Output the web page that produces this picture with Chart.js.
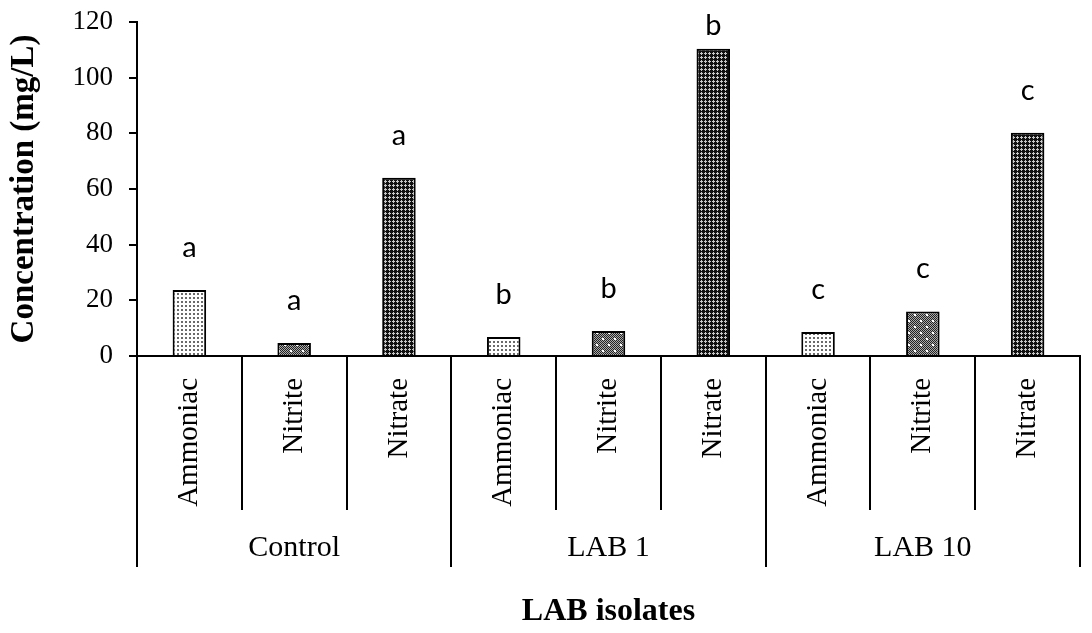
<!DOCTYPE html>
<html>
<head>
<meta charset="utf-8">
<script src="https://cdn.jsdelivr.net/npm/chart.js@4"></script>
<style>
  html, body { margin: 0; padding: 0; background: #fff; }
  #wrap { width: 1092px; height: 633px; }
</style>
</head>
<body>
<div id="wrap"><canvas id="nitrogen_chart" width="1092" height="633"></canvas></div>
<script>
// values (mg/L)
const groups = ['Control', 'LAB 1', 'LAB 10'];
const substances = ['Ammoniac', 'Nitrite', 'Nitrate'];
const ammoniac = [23.7, 6.8, 8.6];
const nitrite = [4.7, 9.0, 16.0];
const nitrate = [64.0, 110.4, 80.2];
const groupLetters = ['a', 'b', 'c'];
const yTicks = [0, 20, 40, 60, 80, 100, 120];

const series = [ammoniac, nitrite, nitrate];

// fill patterns like the Excel ones
function makePattern(size, drawFn) {
    let c = document.createElement('canvas');
    c.width = size; c.height = size;
    let g = c.getContext('2d');
    drawFn(g);
    return g.createPattern(c, 'repeat');
}
const dotsLight = makePattern(4, function(g) {
    g.fillStyle = '#fff'; g.fillRect(0, 0, 4, 4);
    g.fillStyle = '#6a6a6a'; g.fillRect(1, 1, 2, 2);
});
const dotsDark = makePattern(12, function(g) {
    for (let y = 0; y < 12; y++) {
        for (let x = 0; x < 12; x++) {
            g.fillStyle = ((x + y) % 2 === 0) ? '#222' : '#aaa';
            g.fillRect(x, y, 1, 1);
        }
    }
    g.fillStyle = '#fff';
    g.fillRect(2, 2, 2, 2);
    g.fillRect(8, 8, 2, 2);
});
const crossDark = makePattern(4, function(g) {
    g.fillStyle = '#111'; g.fillRect(0, 0, 4, 4);
    g.fillStyle = '#c8c8c8';
    g.fillRect(1, 0, 1, 3);
    g.fillRect(0, 1, 3, 1);
});
const fills = [dotsLight, dotsDark, crossDark];

// flatten groups x substances into one category list
let labels = [], values = [], colors = [], letters = [];
groups.forEach(function(grp, gi) {
    substances.forEach(function(sub, si) {
        labels.push(sub);
        values.push(series[si][gi]);
        colors.push(fills[si]);
        letters.push(groupLetters[gi]);
    });
});

const serif = "'Liberation Serif', 'Times New Roman', serif";

// group separators, group names and significance letters
const extrasPlugin = {
    id: 'extras',
    afterDatasetsDraw(chart) {
        let ctx = chart.ctx;
        let meta = chart.getDatasetMeta(0);
        ctx.save();
        ctx.fillStyle = '#000';
        ctx.font = "29px Lato, 'Open Sans', sans-serif";
        ctx.textAlign = 'center';
        ctx.textBaseline = 'alphabetic';
        meta.data.forEach(function(bar, i) {
            let y = Math.max(bar.y - 33, 35);
            ctx.fillText(letters[i], bar.x, y);
        });
        ctx.restore();
    },
    afterDraw(chart) {
        let ctx = chart.ctx;
        let xs = chart.scales.x;
        let bottom = chart.chartArea.bottom;
        let slot = xs.getPixelForValue(1) - xs.getPixelForValue(0);
        let start = xs.getPixelForValue(0) - slot / 2;
        ctx.save();
        ctx.strokeStyle = '#000';
        ctx.lineWidth = 2;
        for (let i = 0; i <= labels.length; i++) {
            let x = Math.round(start + i * slot);
            let end = (i % substances.length === 0) ? 567 : 510;
            ctx.beginPath();
            ctx.moveTo(x, bottom);
            ctx.lineTo(x, end);
            ctx.stroke();
        }
        ctx.fillStyle = '#000';
        ctx.font = '30px ' + serif;
        ctx.textAlign = 'center';
        ctx.textBaseline = 'middle';
        groups.forEach(function(grp, gi) {
            let cx = start + (gi * substances.length + substances.length / 2) * slot;
            ctx.fillText(grp, cx, 548);
        });
        ctx.restore();
    }
};

let ctx = document.getElementById('nitrogen_chart');
let nitrogenChart = new Chart(ctx, {
    type: 'bar',
    plugins: [extrasPlugin],
    data: {
        labels: labels,
        datasets: [{
            label: 'Concentration',
            data: values,
            backgroundColor: colors,
            borderColor: '#000',
            borderWidth: 2,
            borderSkipped: 'bottom',
            barPercentage: 0.32,
            categoryPercentage: 1.0
        }]
    },
    options: {
        responsive: false,
        animation: false,
        layout: { padding: { top: 22, right: 12, left: 0, bottom: 0 } },
        plugins: {
            legend: { display: false },
            tooltip: { enabled: false }
        },
        scales: {
            x: {
                grid: { display: false },
                border: { display: true, color: '#000', width: 2 },
                ticks: {
                    autoSkip: false,
                    minRotation: 90,
                    maxRotation: 90,
                    padding: 14,
                    color: '#000',
                    font: { family: serif, size: 29 }
                },
                title: {
                    display: true,
                    text: 'LAB isolates',
                    color: '#000',
                    padding: { top: 0, bottom: 2 },
                    font: { family: serif, size: 32, weight: 'bold' }
                },
                afterFit(scale) {
                    scale.height = 633 - 356;
                    scale.paddingLeft = 0;
                    scale.paddingRight = 0;
                }
            },
            y: {
                min: 0,
                max: 120,
                afterBuildTicks(scale) {
                    scale.ticks = yTicks.map(function(v) { return { value: v }; });
                },
                grid: {
                    drawOnChartArea: false,
                    drawTicks: true,
                    tickLength: 8,
                    color: '#000',
                    lineWidth: 2
                },
                border: { display: true, color: '#000', width: 2 },
                ticks: {
                    padding: 16,
                    color: '#000',
                    font: { family: serif, size: 27 }
                },
                title: {
                    display: true,
                    text: 'Concentration (mg/L)',
                    color: '#000',
                    padding: { top: 5, bottom: 0 },
                    font: { family: serif, size: 33, weight: 'bold' }
                },
                afterFit(scale) {
                    scale.width = 137;
                    scale.paddingTop = 0;
                    scale.paddingBottom = 0;
                }
            }
        }
    }
});
</script>
</body>
</html>
